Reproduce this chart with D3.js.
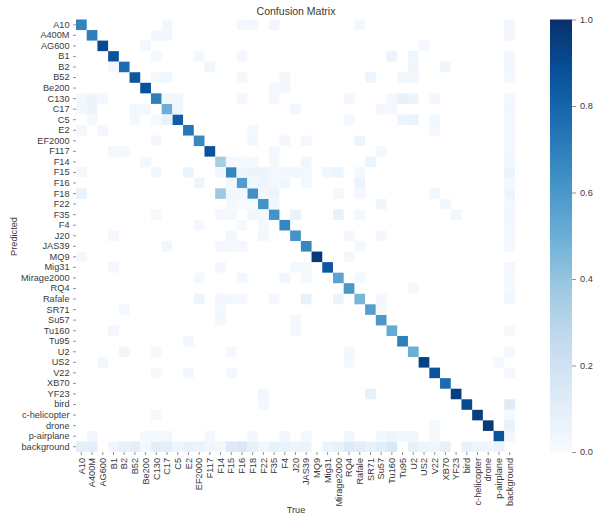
<!DOCTYPE html>
<html>
<head>
<meta charset="utf-8">
<script src="https://cdn.jsdelivr.net/npm/d3@7"></script>
<style>
  html, body { margin: 0; padding: 0; background: #fff; }
  text { font-family: "Liberation Sans", Arial, sans-serif; fill: #3a3a3a; }
  .axis path { display: none; }
  .axis line { stroke: #666; stroke-width: 0.7; }
</style>
</head>
<body>
<div id="chart"></div>
<script>
var labels = ["A10","A400M","AG600","B1","B2","B52","Be200","C130","C17","C5","E2","EF2000","F117","F14","F15","F16","F18","F22","F35","F4","J20","JAS39","MQ9","Mig31","Mirage2000","RQ4","Rafale","SR71","Su57","Tu160","Tu95","U2","US2","V22","XB70","YF23","bird","c-helicopter","drone","p-airplane","background"];

// correct predictions, one per class (background has none)
var diagonal = [.68,.7,.9,.87,.77,.85,.875,.7,.5,.83,.73,.66,.87,.35,.67,.58,.63,.62,.62,.67,.62,.67,.97,.85,.55,.6,.47,.57,.6,.52,.7,.5,.93,.87,.78,.95,.9,.95,.97,.87,0];

// last column, predicted class x true background
var backgroundCol = [.03,.03,0,.03,.03,.02,0,.02,.03,.02,.02,.02,.02,.03,.06,.02,.05,.02,.03,.02,.02,.02,0,.02,.015,.015,.04,0,0,.015,0,.02,0,.025,0,0,.12,.015,.07,.03];

// last row, predicted background x true class
var backgroundRow = [.1,.1,0,.03,.08,.09,.02,.1,.1,.04,.07,.06,.04,.02,.13,.15,.08,.03,.08,.07,.05,.06,0,.06,.07,.13,.11,.07,.11,.15,0,.08,.05,.04,.08,0,.07,.05,.04,.06];

// other confusions: [row, column, value]
var confusions = [
  [0,8,.03],[0,15,.02],[0,16,.02],[0,18,.03],[0,26,.02],
  [1,7,.03],[1,8,.03],
  [2,6,.03],[2,32,.02],
  [3,7,.02],[3,11,.02],[3,15,.02],[3,29,.06],[3,31,.04],
  [4,3,.02],[4,12,.04],[4,31,.04],[4,34,.04],
  [5,7,.02],[5,8,.03],[5,15,.02],[5,19,.03],[5,27,.05],[5,30,.04],[5,31,.03],
  [6,18,.02],[6,19,.03],
  [7,0,.02],[7,1,.05],[7,2,.02],[7,8,.04],[7,9,.04],[7,15,.02],[7,18,.02],[7,25,.02],[7,29,.02],[7,30,.08],[7,31,.05],[7,33,.02],
  [8,0,.03],[8,1,.05],[8,5,.02],[8,6,.02],[8,9,.04],[8,20,.03],[8,28,.02],[8,29,.02],
  [9,1,.02],[9,5,.02],[9,7,.01],[9,8,.07],[9,25,.02],[9,30,.05],[9,31,.06],[9,33,.02],
  [10,0,.02],[10,2,.03],[10,16,.02],[10,33,.02],
  [11,7,.02],[11,16,.02],[11,19,.03],[11,21,.02],[11,26,.05],
  [12,3,.02],[12,4,.02],[12,18,.02],[12,28,.02],
  [13,6,.02],[13,14,.02],[13,15,.015],[13,16,.015],[13,18,.015],[13,21,.04],[13,27,.05],
  [14,0,.02],[14,7,.02],[14,10,.05],[14,13,.02],[14,15,.04],[14,16,.05],[14,17,.05],[14,18,.02],[14,19,.02],[14,20,.03],[14,21,.02],[14,23,.03],[14,24,.05],[14,26,.02],
  [15,11,.05],[15,14,.02],[15,16,.03],[15,17,.05],[15,18,.02],[15,19,.04],[15,21,.02],[15,26,.06],
  [16,0,.07],[16,13,.38],[16,14,.03],[16,15,.02],[16,17,.03],[16,18,.05],[16,24,.02],[16,26,.02],[16,33,.03],
  [17,14,.02],[17,15,.01],[17,16,.01],[17,18,.03],[17,28,.04],[17,34,.03],
  [18,7,.015],[18,13,.02],[18,14,.02],[18,16,.04],[18,17,.02],[18,20,.07],[18,24,.07],[18,26,.02],[18,35,.04],
  [19,11,.02],[19,15,.015],[19,17,.02],
  [20,3,.02],[20,14,.03],[20,17,.03],[20,25,.02],[20,28,.02],
  [21,8,.03],[21,13,.02],[21,14,.02],[21,15,.02],[21,26,.025],
  [22,0,.02],[22,25,.02],
  [23,3,.02],[23,13,.02],[23,20,.02],[23,21,.015],
  [24,11,.02],[24,15,.02],[24,19,.03],[24,21,.015],[24,26,.02],
  [25,31,.02],
  [26,11,.05],[26,13,.03],[26,14,.02],[26,15,.025],[26,18,.02],[26,21,.08],[26,24,.06],[26,28,.02],
  [27,4,.02],[27,13,.02],[27,28,.02],
  [28,13,.02],[28,20,.02],
  [29,3,.03],[29,20,.02],
  [30,10,.02],
  [31,4,.04],[31,7,.015],[31,14,.02],[31,25,.02],
  [32,2,.03],[32,25,.02],[32,39,.015],
  [33,7,.015],[33,10,.025],[33,14,.02],
  [35,17,.03],[35,27,.08],
  [36,17,.025],
  [37,7,.015],
  [38,33,.015],
  [39,1,.03],[39,6,.015],[39,7,.015],[39,8,.025],[39,12,.02],[39,16,.02],[39,19,.03],[39,21,.02],[39,25,.03],[39,28,.02],[39,29,.05],[39,30,.03],[39,31,.03],[39,33,.015]
];

var colorTicks = [0, 0.2, 0.4, 0.6, 0.8, 1.0];
var blues = ["#f7fbff","#deebf7","#c6dbef","#9ecae1","#6baed6","#4292c6","#2171b5","#08519c","#08306b"];

var svgWidth = 597, svgHeight = 514;
var margin = { top: 19.5, left: 76, bottom: 62, right: 82 };

var cells = [];
diagonal.forEach(function(v, i) { cells.push({ row: i, col: i, value: v }); });
backgroundCol.forEach(function(v, i) { cells.push({ row: i, col: 40, value: v }); });
backgroundRow.forEach(function(v, i) { cells.push({ row: 40, col: i, value: v }); });
confusions.forEach(function(c) { cells.push({ row: c[0], col: c[1], value: c[2] }); });

var svg = d3.select("#chart").append("svg")
  .attr("width", svgWidth)
  .attr("height", svgHeight)
  .style("display", "block");

var x = d3.scaleBand().domain(labels).range([margin.left, 515]);
var y = d3.scaleBand().domain(labels).range([margin.top, svgHeight - margin.bottom]);
var color = d3.scaleLinear()
  .domain(blues.map(function(d, i) { return i / (blues.length - 1); }))
  .range(blues);

// zero cells stay blank
svg.append("g").selectAll("rect")
  .data(cells.filter(function(d) { return d.value > 0; }))
  .enter()
  .append("rect")
  .attr("x", function(d) { return x(labels[d.col]); })
  .attr("y", function(d) { return y(labels[d.row]); })
  .attr("width", x.bandwidth())
  .attr("height", y.bandwidth())
  .attr("fill", function(d) { return color(d.value); });

var yAxis = svg.append("g")
  .attr("class", "axis")
  .attr("transform", "translate(" + margin.left + ",0)")
  .call(d3.axisLeft(y).tickSize(3).tickPadding(3.5));
yAxis.selectAll("text").style("font-size", "9.2px");

var xAxis = svg.append("g")
  .attr("class", "axis")
  .attr("transform", "translate(0," + (svgHeight - margin.bottom) + ")")
  .call(d3.axisBottom(x).tickSize(3).tickPadding(3));
xAxis.selectAll("text")
  .style("font-size", "9.2px")
  .attr("transform", "rotate(-90)")
  .attr("x", -6)
  .attr("y", 0)
  .attr("dy", "0.35em")
  .attr("text-anchor", "end");

// colorbar
var defs = svg.append("defs");
var gradient = defs.append("linearGradient")
  .attr("id", "bar")
  .attr("x1", 0).attr("x2", 0).attr("y1", 1).attr("y2", 0);
blues.forEach(function(c, i) {
  gradient.append("stop")
    .attr("offset", i / (blues.length - 1))
    .attr("stop-color", c);
});

var barScale = d3.scaleLinear().domain([0, 1]).range([svgHeight - margin.bottom, margin.top]);
svg.append("rect")
  .attr("x", 550)
  .attr("y", margin.top)
  .attr("width", 22)
  .attr("height", svgHeight - margin.bottom - margin.top)
  .attr("fill", "url(#bar)");

var barAxis = svg.append("g")
  .attr("class", "axis")
  .attr("transform", "translate(572,0)")
  .call(d3.axisRight(barScale).tickValues(colorTicks).tickFormat(d3.format(".1f")).tickSize(4).tickPadding(4));
barAxis.selectAll("text").style("font-size", "9.2px");

svg.append("text")
  .attr("x", 296)
  .attr("y", 14.5)
  .attr("text-anchor", "middle")
  .style("font-size", "10.5px")
  .text("Confusion Matrix");

svg.append("text")
  .attr("x", 296)
  .attr("y", 513)
  .attr("text-anchor", "middle")
  .style("font-size", "9.2px")
  .text("True");

svg.append("text")
  .attr("transform", "translate(17,236.5) rotate(-90)")
  .attr("text-anchor", "middle")
  .style("font-size", "9.2px")
  .text("Predicted");
</script>
</body>
</html>
